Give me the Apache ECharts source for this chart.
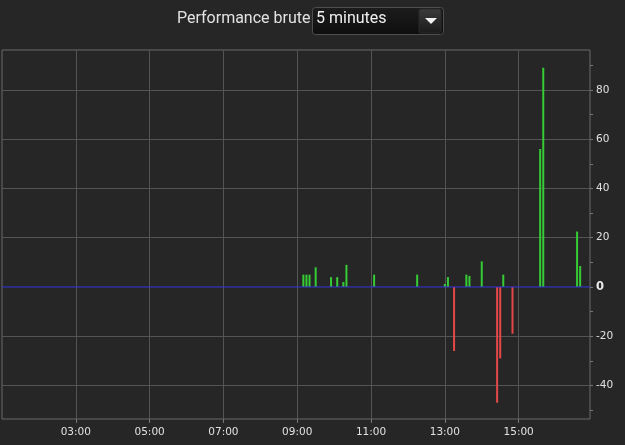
<!DOCTYPE html>
<html>
<head>
<meta charset="utf-8">
<script src="https://cdn.jsdelivr.net/npm/echarts@6/dist/echarts.min.js"></script>
<style>
html,body{margin:0;padding:0;background:#262626;}
#chart{width:625px;height:445px;}
</style>
</head>
<body>
<div id="chart"></div>
<script>
// ---- data ----
const titleText = 'Performance brute';
const periodText = '5 minutes';
const times = ['09:10','09:15','09:20','09:30','09:55','10:05','10:15','10:20','11:05','12:15',
               '13:00','13:05','13:15','13:35','13:40','14:00','14:25','14:30','14:35','14:50',
               '15:35','15:40','16:35','16:40'];
const values = [5, 5, 5, 8, 4, 4, 2, 9, 5, 5,
                1.2, 4, -26, 5, 4.5, 10.4, -47, -29, 5, -19,
                56, 89, 22.5, 8.5];
const xTickLabels = ['03:00','05:00','07:00','09:00','11:00','13:00','15:00'];
const yTickLabels = [-40, -20, 0, 20, 40, 60, 80];
const yMinorTicks = [-50, -40, -30, -20, -10, 0, 10, 20, 30, 40, 50, 60, 70, 80, 90];
const xRange = ['01:00', '16:56'];
const yRange = [-53.6, 96.2];
const baseline = 0;

function toMin(s){ const p = s.split(':'); return (+p[0]) * 60 + (+p[1]); }
function fmt(m){ const h = Math.floor(m / 60), mm = Math.round(m % 60); return (h < 10 ? '0' : '') + h + ':' + (mm < 10 ? '0' : '') + mm; }

const barData = times.map((t, i) => [toMin(t), values[i]]);
const xTicks = xTickLabels.map(toMin);
const ySplit = yTickLabels.filter(v => v !== 0);
const zeroLine = xRange.map(t => [toMin(t), baseline]);

const chart = echarts.init(document.getElementById('chart'));
const axisFont = "'DejaVu Sans', Verdana, sans-serif";
chart.setOption({
  backgroundColor: '#262626',
  animation: false,
  graphic: [
    { type: 'text', left: 177, top: 11, style: { text: titleText, fill: '#e2e2e2', font: "16px Roboto, 'Noto Sans', sans-serif" } },
    { type: 'rect', shape: { x: 312.5, y: 7.5, width: 131, height: 27, r: 3 },
      style: { fill: new echarts.graphic.LinearGradient(0, 0, 0, 1, [{offset: 0, color: '#1c1c1c'}, {offset: 1, color: '#0e0e0e'}]), stroke: '#4e4e4e', lineWidth: 1 } },
    { type: 'text', left: 316, top: 11, style: { text: periodText, fill: '#f0f0f0', font: "16px Roboto, 'Noto Sans', sans-serif" } },
    { type: 'rect', shape: { x: 419, y: 9, width: 22, height: 24, r: 2 },
      style: { fill: new echarts.graphic.LinearGradient(0, 0, 0, 1, [{offset: 0, color: '#3c3c3c'}, {offset: 1, color: '#1a1a1a'}]), stroke: '#2a2a2a', lineWidth: 1 } },
    { type: 'polygon', shape: { points: [[425, 18], [437, 18], [431, 24]] }, style: { fill: '#f2f2f2' } }
  ],
  grid: { left: 2, right: 35, top: 50, bottom: 26, show: true, borderColor: '#6a6a6a', borderWidth: 1, backgroundColor: 'transparent' },
  xAxis: {
    type: 'value',
    min: toMin(xRange[0]), max: toMin(xRange[1]),
    axisLine: { show: false, onZero: false },
    axisTick: { show: true, length: 4, lineStyle: { color: '#777' }, customValues: xTicks },
    axisLabel: { color: '#e0e0e0', fontFamily: axisFont, fontSize: 10.5, margin: 8, customValues: xTicks, formatter: v => fmt(v) },
    splitLine: { show: true, lineStyle: { color: '#545454', width: 1 } }
  },
  yAxis: [
    {
      type: 'value', position: 'right', min: yRange[0], max: yRange[1],
      axisLine: { show: false },
      axisTick: { show: true, length: 3, lineStyle: { color: '#777' }, customValues: yMinorTicks },
      axisLabel: {
        color: '#e0e0e0', fontFamily: axisFont, fontSize: 10.5, margin: 6, customValues: yTickLabels,
        formatter: v => v === 0 ? '{b|0}' : String(v),
        rich: { b: { fontWeight: 'bold', fontSize: 11.5, color: '#ececec', fontFamily: axisFont } }
      },
      splitLine: { show: false }
    },
    {
      type: 'value', position: 'right', min: yRange[0], max: yRange[1], splitNumber: 7,
      axisLine: { show: false },
      axisTick: { show: false, customValues: ySplit },
      axisLabel: { show: false },
      splitLine: { show: true, lineStyle: { color: '#545454', width: 1 } }
    }
  ],
  series: [
    {
      type: 'line',
      name: 'zero',
      yAxisIndex: 0,
      data: zeroLine,
      symbol: 'none',
      silent: true,
      z: 4,
      lineStyle: { color: '#3434e0', width: 1 }
    },
    {
      type: 'bar',
      name: titleText,
      yAxisIndex: 0,
      barWidth: 2,
      z: 3,
      data: barData,
      itemStyle: { color: p => p.value[1] >= 0 ? '#35cc35' : '#e54848' }
    }
  ]
});
</script>
</body>
</html>
